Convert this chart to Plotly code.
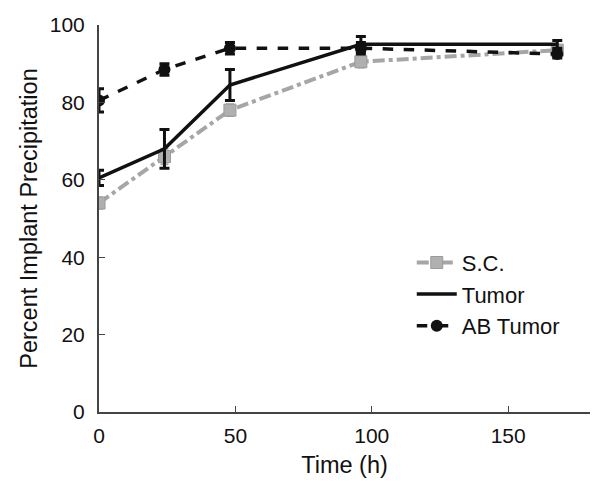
import plotly.graph_objects as go

time_h = [0, 24, 48, 96, 168]
sc = [54, 66, 78, 90.5, 93.5]
sc_err = [1.5, 2, 1.5, 1.5, 1]
tumor = [60.5, 68, 84.5, 95, 95]
tumor_err = [2, 5, 4, 2, 1]
ab_tumor = [80.5, 88.5, 94, 94, 92.5]
ab_err = [3, 1.5, 1.5, 1.5, 1]

fig = go.Figure()
fig.add_trace(go.Scatter(
    x=time_h, y=sc, name="S.C.", mode="lines+markers",
    line=dict(color="#a6a6a6", width=4, dash="dashdot"),
    marker=dict(symbol="square", size=12, color="#b0b0b0", line=dict(color="#9a9a9a", width=1)),
    error_y=dict(type="data", array=sc_err, color="#a6a6a6", thickness=2, width=4),
))
fig.add_trace(go.Scatter(
    x=time_h, y=tumor, name="Tumor", mode="lines",
    line=dict(color="#111111", width=3.5),
    error_y=dict(type="data", array=tumor_err, color="#111111", thickness=3, width=5),
))
fig.add_trace(go.Scatter(
    x=time_h, y=ab_tumor, name="AB Tumor", mode="lines+markers",
    line=dict(color="#111111", width=3.5, dash="dash"),
    marker=dict(symbol="circle", size=12, color="#111111"),
    error_y=dict(type="data", array=ab_err, color="#111111", thickness=3, width=5),
))

fam = "Liberation Sans, Arial, sans-serif"
fig.update_layout(
    width=601, height=491,
    margin=dict(l=99, r=11, t=25, b=79),
    paper_bgcolor="white", plot_bgcolor="white",
    font=dict(family=fam, size=21, color="#111111"),
    showlegend=True,
    legend=dict(x=0.637, y=0.44, xanchor="left", yanchor="top",
                bgcolor="rgba(0,0,0,0)", font=dict(size=22),
                tracegroupgap=0, itemwidth=40),
    xaxis=dict(range=[0, 180], tickvals=[0, 50, 100, 150], ticks="inside", ticklen=6,
               tickcolor="#444", showline=True, linecolor="#444", linewidth=2,
               showgrid=False, zeroline=False, automargin=False, ticklabelstandoff=4,
               tickfont=dict(size=21),
               title=dict(text="Time (h)", font=dict(size=23.5), standoff=10)),
    yaxis=dict(range=[0, 100], tickvals=[0, 20, 40, 60, 80, 100], ticks="inside", ticklen=6,
               tickcolor="#444", showline=True, linecolor="#444", linewidth=2,
               showgrid=False, zeroline=False, automargin=False, ticklabelstandoff=8,
               tickfont=dict(size=21),
               title=dict(text="Percent Implant Precipitation", font=dict(size=23.5), standoff=6)),
)
fig.write_html("out.html", config={"displayModeBar": False},
               post_script="document.body.style.margin='0';document.body.style.overflow='hidden';")
